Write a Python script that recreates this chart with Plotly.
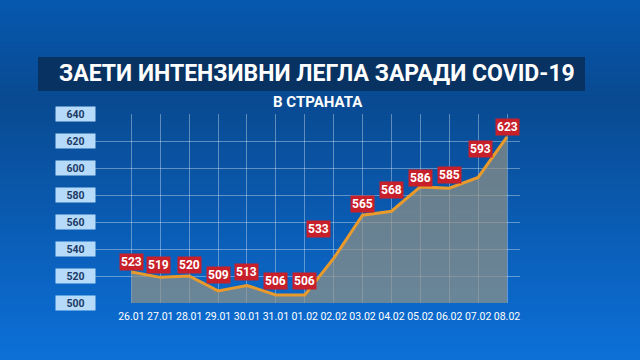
import plotly.graph_objects as go

dates = ["26.01", "27.01", "28.01", "29.01", "30.01", "31.01", "01.02",
         "02.02", "03.02", "04.02", "05.02", "06.02", "07.02", "08.02"]
beds = [523, 519, 520, 509, 513, 506, 506, 533, 565, 568, 586, 585, 593, 623]
y_ticks = [500, 520, 540, 560, 580, 600, 620, 640]

title_text = "ЗАЕТИ ИНТЕНЗИВНИ ЛЕГЛА ЗАРАДИ COVID-19"
subtitle_text = "В СТРАНАТА"

# label offsets in pixels (dx, dy) relative to each point
label_dx = [0, -2, 0, 0, 0, 0, 0, -15, 0, 0, 0, 0, 2, 0]
label_dy = [10, 12, 11, 16, 13, 14, 14, 29, 11, 21, 9, 13, 28, 10]

W, H = 640, 360
px_left, px_right = 95, 520
px_top, px_bottom = 114, 303

x_idx = list(range(len(dates)))

fig = go.Figure()

def lerp(c1, c2, t):
    return tuple(int(round(a + (b - a) * t)) for a, b in zip(c1, c2))

stops = [(0.0, (6, 88, 176)), (0.28, (9, 74, 145)), (0.55, (10, 88, 172)), (1.0, (12, 112, 216))]
shapes = []
n = 60
for i in range(n):
    t = (i + 0.5) / n
    for j in range(len(stops) - 1):
        if stops[j][0] <= t <= stops[j + 1][0]:
            tt = (t - stops[j][0]) / (stops[j + 1][0] - stops[j][0])
            c = lerp(stops[j][1], stops[j + 1][1], tt)
            break
    y0 = 1 - i / n
    y1 = 1 - (i + 1) / n
    shapes.append(dict(type="rect", xref="paper", yref="paper", x0=0, x1=1,
                       y0=y1 - 0.002, y1=y0 + 0.002, layer="below",
                       fillcolor="rgb(%d,%d,%d)" % c, line=dict(width=0)))

# title box
shapes.append(dict(type="rect", xref="paper", yref="paper",
                   x0=38 / W, x1=585 / W, y0=1 - 91 / H, y1=1 - 57 / H,
                   fillcolor="rgba(8,48,92,0.92)", line=dict(width=0), layer="below"))

fig.add_trace(go.Scatter(
    x=x_idx, y=beds, mode="lines",
    line=dict(color="#e89a2c", width=3),
    fill="tozeroy", fillcolor="rgba(150,148,130,0.68)",
    hoverinfo="skip"))

annotations = []
for i, v in enumerate(beds):
    annotations.append(dict(
        x=x_idx[i], y=v, xref="x", yref="y", text="<b>%d</b>" % v,
        showarrow=False, xshift=label_dx[i], yshift=label_dy[i],
        font=dict(family="Roboto", size=12, color="white"),
        bgcolor="#c8202a", borderpad=1, xanchor="center", yanchor="middle"))

for t in y_ticks:
    annotations.append(dict(
        x=75 / W, y=t, xref="paper", yref="y", text="<b>%d</b>" % t,
        showarrow=False, width=39, height=14, xanchor="center", yanchor="middle",
        font=dict(family="Roboto", size=10.5, color="#1b3a66"),
        bgcolor="#b6dbfa", borderpad=0))

annotations.append(dict(
    x=317 / W, y=1 - 74 / H, xref="paper", yref="paper",
    text="<b>" + title_text + "</b>", showarrow=False,
    xanchor="center", yanchor="middle",
    font=dict(family="Roboto", size=23, color="white")))
annotations.append(dict(
    x=318 / W, y=1 - 102 / H, xref="paper", yref="paper",
    text="<b>" + subtitle_text + "</b>", showarrow=False,
    xanchor="center", yanchor="middle",
    font=dict(family="Roboto", size=15, color="white")))

fig.update_layout(
    width=W, height=H,
    margin=dict(l=0, r=0, t=0, b=0),
    paper_bgcolor="#0a55a8", plot_bgcolor="rgba(0,0,0,0)",
    showlegend=False,
    shapes=shapes,
    annotations=annotations,
    xaxis=dict(domain=[px_left / W, px_right / W], range=[-1.26, len(dates) - 1 + 0.45],
               tickmode="array", tickvals=x_idx, ticktext=dates, tickangle=0,
               showgrid=True, gridcolor="rgba(255,255,255,0.35)", gridwidth=1,
               zeroline=False, showline=False, ticks="", ticklabelstandoff=5,
               tickfont=dict(family="Roboto", size=10.5, color="white")),
    yaxis=dict(domain=[1 - px_bottom / H, 1 - px_top / H], range=[500, 640],
               tickmode="array", tickvals=y_ticks, showticklabels=False,
               showgrid=True, gridcolor="rgba(255,255,255,0.35)", gridwidth=1,
               zeroline=False, showline=False, ticks=""),
)

fig.write_html("out.html", config={"displayModeBar": False},
               post_script="document.body.style.margin='0';document.body.style.overflow='hidden';")
